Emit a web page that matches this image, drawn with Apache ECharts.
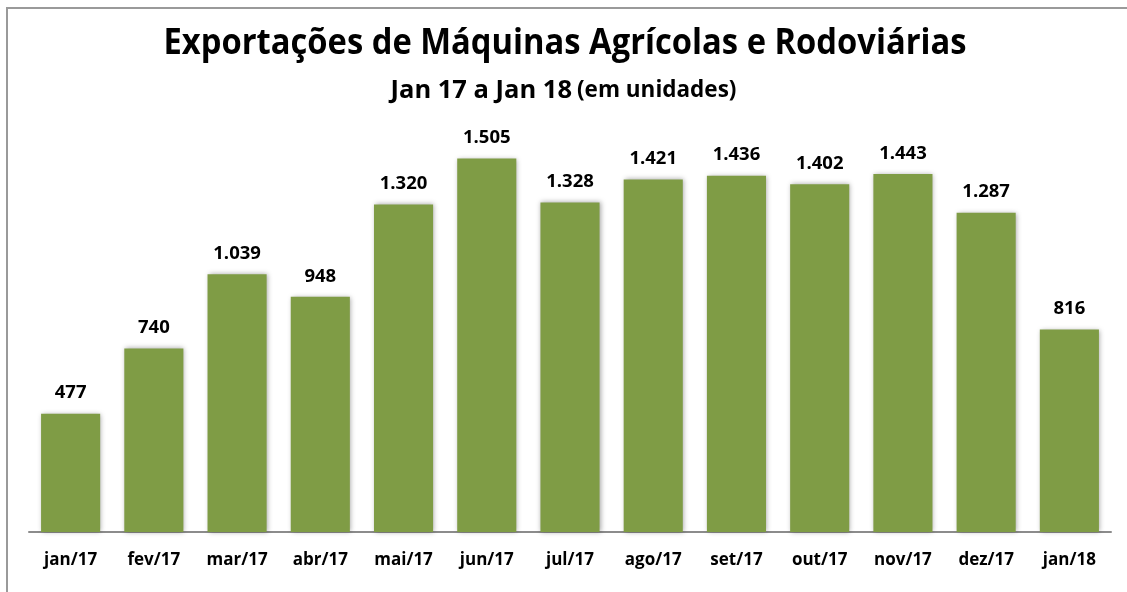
<!DOCTYPE html>
<html>
<head>
<meta charset="utf-8">
<script src="https://cdn.jsdelivr.net/npm/echarts@6/dist/echarts.min.js"></script>
<style>
html,body{margin:0;padding:0;background:#fff;}
#c{width:1127px;height:592px;}
</style>
</head>
<body>
<div id="c"></div>
<script>
const categories = ['jan/17','fev/17','mar/17','abr/17','mai/17','jun/17','jul/17','ago/17','set/17','out/17','nov/17','dez/17','jan/18'];
const exportsValues = [477, 740, 1039, 948, 1320, 1505, 1328, 1421, 1436, 1402, 1443, 1287, 816];
const titleText = 'Exportações de Máquinas Agrícolas e Rodoviárias';
const subtitleMain = 'Jan 17 a Jan 18';
const subtitleUnit = '(em unidades)';

const FONT = '"Open Sans", "Noto Sans", sans-serif';
const chart = echarts.init(document.getElementById('c'), null, {renderer:'canvas'});
const fmt = v => v.toLocaleString('pt-BR');

chart.setOption({
  animation: false,
  backgroundColor: '#fff',
  graphic: [{
    type: 'rect',
    shape: {x: 7, y: 8, width: 1130, height: 600},
    style: {fill: 'none', stroke: '#9a9a9a', lineWidth: 2},
    silent: true
  }, {
    type: 'text',
    x: 565,
    y: 27,
    scaleX: 0.935,
    originX: 0,
    style: {
      text: titleText,
      fill: '#000',
      font: 'bold 35px ' + FONT,
      align: 'center',
      verticalAlign: 'top'
    },
    silent: true
  }],
  title: [{
    text: '{a|' + subtitleMain + '} {b|' + subtitleUnit + '}',
    left: 'center',
    top: 70,
    textStyle: {
      rich: {
        a: {fontFamily: FONT, fontWeight: 'bold', fontSize: 25.5, color: '#000', lineHeight: 32},
        b: {fontFamily: FONT, fontWeight: 'bold', fontSize: 22.5, color: '#000', lineHeight: 32}
      }
    }
  }],
  grid: {left: 29, right: 16, top: 135, bottom: 60, containLabel: false},
  xAxis: {
    type: 'category',
    data: categories,
    axisLine: {show: true, lineStyle: {color: '#8c8c8c', width: 2}},
    axisTick: {show: false},
    axisLabel: {fontFamily: FONT, fontWeight: 'bold', fontSize: 17, color: '#000', margin: 20}
  },
  yAxis: {
    type: 'value',
    min: 0,
    max: 1600,
    show: false,
    splitLine: {show: false}
  },
  series: [{
    type: 'bar',
    data: exportsValues,
    barCategoryGap: '29%',
    itemStyle: {
      color: '#7f9c45',
      shadowBlur: 5,
      shadowColor: 'rgba(0,0,0,0.35)',
      shadowOffsetX: 1,
      shadowOffsetY: 0
    },
    label: {
      show: true,
      position: 'top',
      distance: 11,
      formatter: p => fmt(p.value),
      fontFamily: FONT,
      fontWeight: 'bold',
      fontSize: 18.5,
      color: '#000'
    }
  }]
});
</script>
</body>
</html>
